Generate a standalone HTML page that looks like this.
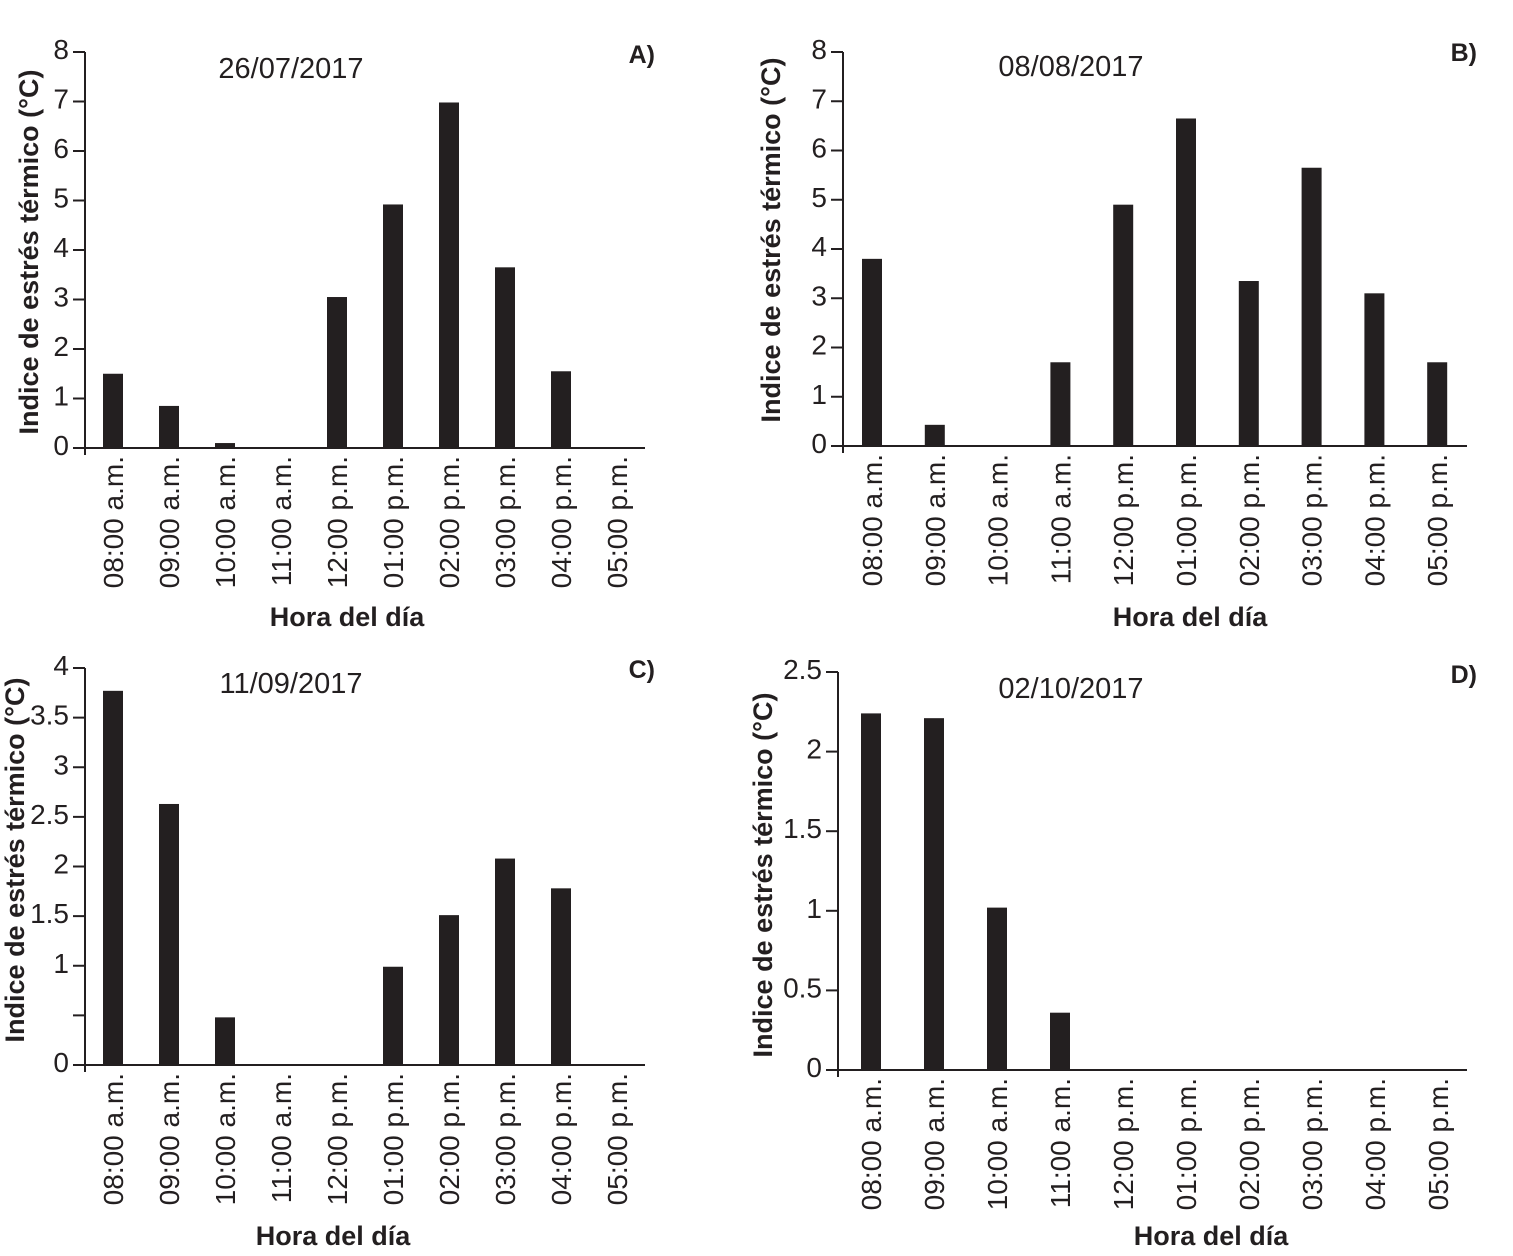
<!DOCTYPE html>
<html><head><meta charset="utf-8"><style>
body{margin:0;background:#fff;}
svg text{font-family:"Liberation Sans",sans-serif;fill:#231f20;}
</style></head><body>
<svg id="s" width="1513" height="1251" xmlns="http://www.w3.org/2000/svg"></svg>
<script>
const categories=["08:00 a.m.","09:00 a.m.","10:00 a.m.","11:00 a.m.","12:00 p.m.","01:00 p.m.","02:00 p.m.","03:00 p.m.","04:00 p.m.","05:00 p.m."];
const valuesA=[1.5,0.85,0.1,0,3.05,4.92,6.98,3.65,1.55,0];
const valuesB=[3.8,0.43,0,1.7,4.9,6.65,3.35,5.65,3.1,1.7];
const valuesC=[3.77,2.63,0.48,0,0,0.99,1.51,2.08,1.78,0];
const valuesD=[2.24,2.21,1.02,0.36,0,0,0,0,0,0];
const ticksAB=["0","1","2","3","4","5","6","7","8"];
const ticksC=["0","","1","1.5","2","2.5","3","3.5","4"];
const ticksD=["0","0.5","1","1.5","2","2.5"];
const NS="http://www.w3.org/2000/svg";
const svg=document.getElementById('s');
function mk(tag,attrs,parent){const e=document.createElementNS(NS,tag);for(const k in attrs)e.setAttribute(k,attrs[k]);(parent||svg).appendChild(e);return e;}
function panel(p){
  const g=mk('g',{});
  
  
  const ymax=p.tickStep*(p.ticks.length-1);
  const y=v=>p.y0-(v/ymax)*(p.y0-p.yTop);
  const x=i=>p.x0+p.first+i*p.step;
  let ax=mk('line',{x1:p.x0,y1:p.yTop,x2:p.x0,y2:p.y0+7,stroke:'#231f20','stroke-width':2},g);
  
  let bx=mk('line',{x1:p.x0-7,y1:p.y0,x2:p.xEnd,y2:p.y0,stroke:'#231f20','stroke-width':2},g);
  
  p.ticks.forEach((t,i)=>{
    const yy=y(i*p.tickStep);
    mk('line',{x1:p.x0-12,y1:yy,x2:p.x0,y2:yy,stroke:'#231f20','stroke-width':2},g);
    if(t){const tx=mk('text',{x:p.x0-16,y:yy+7,'text-anchor':'end','font-size':28},g);tx.textContent=t;
    }
  });
  p.vals.forEach((v,i)=>{
    const r=mk('rect',{x:x(i)-10,y:y(v),width:20,height:p.y0-y(v),fill:'#231f20'},g);
    
    const t=mk('text',{transform:`translate(${x(i)+10},${p.y0+8}) rotate(-90)`,'text-anchor':'end','font-size':28},g);
    t.textContent=categories[i];
    
  });
  const yt=mk('text',{transform:`translate(${p.ytX},${p.ytY}) rotate(-90)`,'text-anchor':'middle','font-size':27,'font-weight':'bold'},g);
  yt.textContent='Indice de estrés térmico (°C)';
  
  const xt=mk('text',{x:p.xtX,y:p.xtY,'text-anchor':'middle','font-size':27,'font-weight':'bold'},g);
  xt.textContent='Hora del día';
  
  const dt=mk('text',{x:p.dX,y:p.dY,'text-anchor':'middle','font-size':29},g);
  dt.textContent=p.date;
  
  const lt=mk('text',{x:p.lX,y:p.lY,'text-anchor':'end','font-size':25,'font-weight':'bold'},g);
  lt.textContent=p.id+')';
  
}
panel({id:'A',vals:valuesA,ticks:ticksAB,tickStep:1,x0:85,y0:448,yTop:52,xEnd:645,first:28,step:56,ytX:38,ytY:252,xtX:347,xtY:626,date:'26/07/2017',dX:291,dY:78,lX:655,lY:63});
panel({id:'B',vals:valuesB,ticks:ticksAB,tickStep:1,x0:843,y0:446,yTop:52,xEnd:1467,first:29,step:62.8,ytX:780,ytY:240,xtX:1190,xtY:626,date:'08/08/2017',dX:1071,dY:76,lX:1477,lY:61});
panel({id:'C',vals:valuesC,ticks:ticksC,tickStep:0.5,x0:85,y0:1065,yTop:668,xEnd:645,first:28,step:56,ytX:24,ytY:860,xtX:333,xtY:1245,date:'11/09/2017',dX:291,dY:693,lX:655,lY:678});
panel({id:'D',vals:valuesD,ticks:ticksD,tickStep:0.5,x0:838,y0:1070,yTop:672,xEnd:1467,first:33,step:63,ytX:772,ytY:875,xtX:1211,xtY:1245,date:'02/10/2017',dX:1071,dY:698,lX:1477,lY:683});
</script>
</body></html>
